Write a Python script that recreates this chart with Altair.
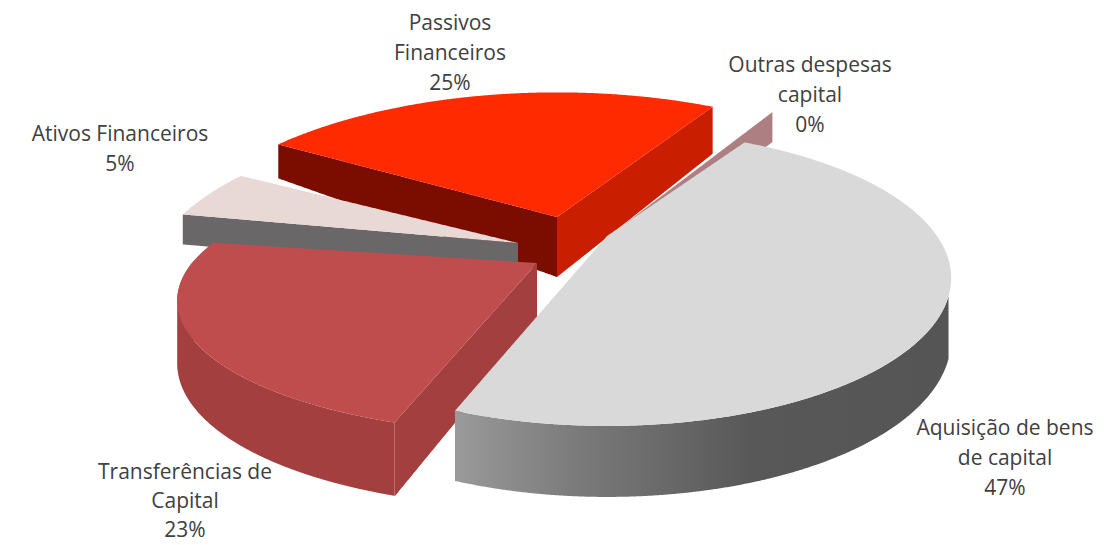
import numpy as np
import pandas as pd
import altair as alt

# Data
categories = ["Aquisição de bens de capital", "Transferências de Capital", "Ativos Financeiros", "Passivos Financeiros", "Outras despesas capital"]
shares = [47, 23, 5, 25, 0.4]

label_lines = ["Passivos", "Financeiros", "25%", "Outras despesas", "capital", "0%", "Ativos Financeiros", "5%",
               "Aquisição de bens", "de capital", "47%", "Transferências de", "Capital", "23%"]
label_x = [450, 450, 450, 810, 810, 810, 120, 120, 1005, 1005, 1005, 185, 185, 185]
label_y = [24, 54, 84, 66, 96, 126, 135, 165, 429, 459, 489, 473, 502, 531]

# Layout of the tilted pie: (apex x, apex y, radius x, radius y, rotation) per slice
K = 0.284
START = 30.0
layout = [(607, 236, 330, 136, 1.2), (537, 263, 345, 122, -1), (518, 243, 360, 158, 0), (557, 217, 375, 160, 2.5), (622, 226, 374, 164, 1.5)]

total = sum(shares)
edges = np.cumsum([0] + shares) / total * 360 + START


def rim(i, t):
    ax, ay, rx, ry, rot = layout[i]
    r = np.radians(t + rot)
    u, v = np.sin(r), -np.cos(r)
    w = 1 / (1 - K * v)
    return ax + rx * u * w, ay + ry * v * w, v


def arc(i, t0, t1, n=120):
    t = np.linspace(t0, t1, n)
    x, y, v = rim(i, t)
    return x, y, v


def band(px, py, n=360):
    """Turn an x-monotone outline into upper and lower boundaries for an area mark."""
    px, py = np.asarray(px, float), np.asarray(py, float)
    xs = np.unique(np.concatenate([np.linspace(px.min(), px.max(), n), px]))
    x1, y1 = px, py
    x2, y2 = np.roll(px, -1), np.roll(py, -1)
    rows = []
    for x in xs:
        hits = []
        for a, b, c, d in zip(x1, y1, x2, y2):
            if min(a, c) - 1e-9 <= x <= max(a, c) + 1e-9:
                if abs(c - a) < 1e-9:
                    hits += [b, d]
                else:
                    hits.append(b + (d - b) * (x - a) / (c - a))
        rows.append((x, min(hits), max(hits)))
    return pd.DataFrame(rows, columns=["x", "y", "y2"])


X = alt.X("x:Q", scale=alt.Scale(domain=[8, 1101]), axis=None)
Y = alt.Y("y:Q", scale=alt.Scale(domain=[8, 545], reverse=True), axis=None)


def shape(px, py, fill):
    return alt.Chart(band(px, py)).mark_area(fill=fill, orient="vertical", interpolate="linear", opacity=1).encode(
        x=X, y=Y, y2="y2:Q")


def top(i, fill):
    x, y, _ = arc(i, edges[i], edges[i + 1])
    ax, ay = layout[i][:2]
    return shape(np.r_[ax, x], np.r_[ay, y], fill)


def radial_wall(i, t, d_apex, d_rim, fill):
    x, y, _ = rim(i, t)
    ax, ay = layout[i][:2]
    return shape([ax, x, x, ax], [ay, y, y + d_rim, ay + d_apex], fill)


def rim_wall(i, t0, t1, base, slope, fill):
    x, y, v = arc(i, t0, t1)
    d = base + slope * v
    return shape(np.r_[x, x[::-1]], np.r_[y, (y + d)[::-1]], fill)


gray_wall = alt.Gradient(gradient="linear", x1=0, y1=0, x2=1, y2=0, stops=[
    alt.GradientStop(color="#9a9a9a", offset=0),
    alt.GradientStop(color="#7a7a7a", offset=0.25),
    alt.GradientStop(color="#585858", offset=0.6),
    alt.GradientStop(color="#555555", offset=1),
])

layers = [
    # Outras despesas
    radial_wall(4, edges[4], 30, 30, "#ad7f82"),
    # Passivos
    radial_wall(3, edges[3], 60, 34, "#7a0c00"),
    radial_wall(3, edges[4], 60, 47, "#c91f00"),
    top(3, "#ff2a00"),
    # Ativos
    radial_wall(2, edges[2], 30, 30, "#696767"),
    top(2, "#e8d9d6"),
    # Transferências
    radial_wall(1, edges[1], 60, 74, "#a33f3f"),
    rim_wall(1, edges[1], 272, 58, 16, "#a33f3f"),
    top(1, "#bf4d4d"),
    # Aquisição
    rim_wall(0, 112, edges[1], 57, 14, gray_wall),
    top(0, "#d9d9d9"),
]

labels = alt.Chart(pd.DataFrame({"x": label_x, "y": label_y, "t": label_lines})).mark_text(
    font="Open Sans", fontSize=21, color="#404040", align="center", baseline="middle"
).encode(x=X, y=Y, text="t:N")

chart = alt.layer(*layers, labels).properties(
    width=1093, height=537, padding=0, autosize=alt.AutoSizeParams(type="none"), background="white"
).configure_view(stroke=None)

chart.save("out.html", embed_options={"renderer": "svg", "actions": False})
